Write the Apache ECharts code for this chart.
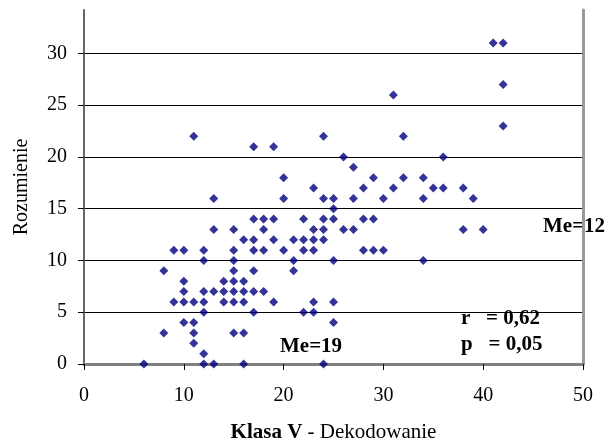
<!DOCTYPE html>
<html>
<head>
<meta charset="utf-8">
<script src="https://cdn.jsdelivr.net/npm/echarts@6/dist/echarts.min.js"></script>
<style>
  html, body { margin: 0; padding: 0; background: #fff; }
  #chart { width: 616px; height: 444px; }
</style>
</head>
<body>
<div id="chart"></div>
<script>
// Klasa V - Dekodowanie (x) vs Rozumienie (y)
var decoding = [
  6, 12, 13, 16, 24,
  12,
  11,
  8, 11, 15, 16,
  10, 11, 25,
  12, 17, 22, 23,
  9, 10, 11, 12, 14, 15, 16, 19, 23, 25,
  10, 12, 13, 14, 15, 16, 17, 18,
  10, 14, 15, 16,
  8, 15, 17, 21,
  12, 15, 21, 25, 34,
  9, 10, 12, 15, 17, 18, 20, 22, 23, 28, 29, 30,
  16, 17, 19, 21, 22, 23, 24,
  13, 15, 18, 23, 24, 26, 27, 38, 40,
  17, 18, 19, 22, 24, 25, 28, 29,
  25,
  13, 20, 24, 25, 27, 30, 34, 39,
  23, 28, 31, 35, 36, 38,
  20, 29, 32, 34,
  27,
  26, 36,
  17, 19,
  11, 24, 32,
  42,
  31,
  42,
  41, 42
];
var comprehension = [
  0, 0, 0, 0, 0,
  1,
  2,
  3, 3, 3, 3,
  4, 4, 4,
  5, 5, 5, 5,
  6, 6, 6, 6, 6, 6, 6, 6, 6, 6,
  7, 7, 7, 7, 7, 7, 7, 7,
  8, 8, 8, 8,
  9, 9, 9, 9,
  10, 10, 10, 10, 10,
  11, 11, 11, 11, 11, 11, 11, 11, 11, 11, 11, 11,
  12, 12, 12, 12, 12, 12, 12,
  13, 13, 13, 13, 13, 13, 13, 13, 13,
  14, 14, 14, 14, 14, 14, 14, 14,
  15,
  16, 16, 16, 16, 16, 16, 16, 16,
  17, 17, 17, 17, 17, 17,
  18, 18, 18, 18,
  19,
  20, 20,
  21, 21,
  22, 22, 22,
  23,
  26,
  27,
  31, 31
];
var yTicks = [0, 5, 10, 15, 20, 25, 30];
var xTicks = [0, 10, 20, 30, 40, 50];

var points = [];
for (var i = 0; i < decoding.length; i++) {
  points.push([decoding[i], comprehension[i]]);
}

var font = '"Liberation Serif", "Times New Roman", serif';
var chart = echarts.init(document.getElementById('chart'));
var option = {
  animation: false,
  backgroundColor: '#fff',
  grid: { left: 84, right: 33, top: 10, bottom: 80, containLabel: false, outerBoundsMode: 'none' },
  xAxis: {
    type: 'value',
    min: 0,
    max: 50,
    interval: 10,
    name: '{b|Klasa V} - Dekodowanie',
    nameLocation: 'middle',
    nameGap: 58,
    nameTextStyle: {
      fontFamily: font, fontSize: 21, color: '#000',
      rich: { b: { fontFamily: font, fontSize: 21, fontWeight: 'bold', color: '#000' } }
    },
    axisLine: { show: true, lineStyle: { color: '#808080', width: 3 } },
    axisTick: { show: true, length: 6, lineStyle: { color: '#000' }, customValues: xTicks },
    axisLabel: { fontFamily: font, fontSize: 20, color: '#000', margin: 22, customValues: xTicks },
    splitLine: { show: false }
  },
  yAxis: [{
    type: 'value',
    min: 0,
    max: 34.2,
    name: 'Rozumienie',
    nameLocation: 'middle',
    nameGap: 52,
    nameTextStyle: { fontFamily: font, fontSize: 20, color: '#000' },
    axisLine: { show: true, lineStyle: { color: '#666', width: 2 } },
    axisTick: { show: true, length: 6, lineStyle: { color: '#000' }, customValues: yTicks },
    axisLabel: { fontFamily: font, fontSize: 20, color: '#000', margin: 17, customValues: yTicks },
    splitLine: { show: true, lineStyle: { color: '#000', width: 1 } }
  }, {
    type: 'value',
    position: 'right',
    min: 0,
    max: 34.2,
    axisLine: { show: true, lineStyle: { color: '#999', width: 3 } },
    axisTick: { show: false },
    axisLabel: { show: false },
    splitLine: { show: false }
  }],
  series: [{
    type: 'scatter',
    yAxisIndex: 0,
    symbol: 'diamond',
    symbolSize: 9,
    itemStyle: { color: '#000080' },
    data: points
  }],
  graphic: [
    { type: 'text', left: 543, top: 216, style: { text: 'Me=12', font: 'bold 21px ' + font, fill: '#000' } },
    { type: 'text', left: 280, top: 336, style: { text: 'Me=19', font: 'bold 21px ' + font, fill: '#000' } },
    { type: 'text', left: 461, top: 308, style: { text: 'r   = 0,62', font: 'bold 21px ' + font, fill: '#000' } },
    { type: 'text', left: 461, top: 334, style: { text: 'p   = 0,05', font: 'bold 21px ' + font, fill: '#000' } }
  ]
};
chart.setOption(option);
</script>
</body>
</html>
